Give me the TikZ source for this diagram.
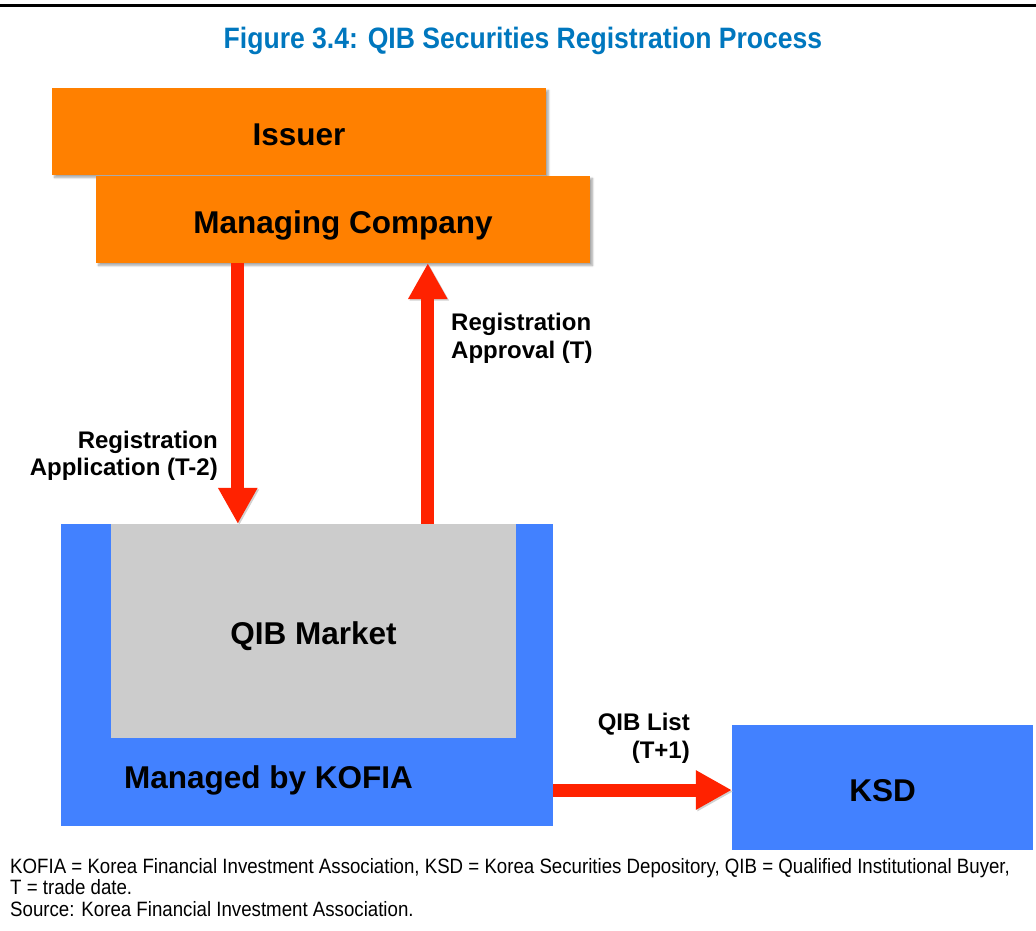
\documentclass[tikz,border=0pt]{standalone}
\usepackage{fontspec}
\setmainfont{Liberation Sans}
\newfontfamily\titlefont{Liberation Sans}[FakeStretch=0.9]
\newfontfamily\notefont{Liberation Sans}[FakeStretch=0.9]
\usetikzlibrary{arrows.meta,shadows.blur}

\definecolor{titleblue}{RGB}{0,119,190}
\definecolor{partyorange}{RGB}{255,128,0}
\definecolor{kofiablue}{RGB}{66,129,255}
\definecolor{marketgray}{RGB}{204,204,204}
\definecolor{flowred}{RGB}{255,34,0}

\begin{document}
\begin{tikzpicture}[x=1pt,y=-1pt]
        \tikzstyle{box} = [rectangle, inner sep=0pt, text height=27.6pt, text depth=0pt, font=\bfseries\fontsize{31.5}{36}\selectfont]
        \tikzstyle{party} = [box, fill=partyorange, minimum width=494pt, minimum height=87pt,
            blur shadow={shadow xshift=2.5pt, shadow yshift=-2.5pt, shadow blur steps=6, shadow opacity=35}]
        \tikzstyle{note} = [inner sep=0pt, font=\bfseries\fontsize{24}{27.5}\selectfont]
        \tikzstyle{flow} = [line width=13pt, draw=flowred, -{Triangle[length=36pt, width=37pt]},
            preaction={draw=black!18, transform canvas={shift={(1.5pt,-1.5pt)}}}]

        \useasboundingbox (0,0) rectangle (1036,930);
        \draw[line width=3pt] (0,5.5) -- (1036,5.5);

        \node (title) [inner sep=0pt, text=titleblue, font=\titlefont\bfseries\fontsize{29.5}{32}\selectfont] at (523,41) {Figure 3.4: QIB Securities Registration Process};

        % issuer side
        \node (issuer) [party] at (299,131.5) {Issuer};
        \node (mc) [party] at (343,219.5) {Managing Company};

        % QIB market run by KOFIA
        \node (kofia) [box, fill=kofiablue, minimum width=492pt, minimum height=302pt] at (307,675) {};
        \node (market) [box, fill=marketgray, minimum width=405pt, minimum height=214pt] at (313.5,631) {QIB Market};
        \node (kofialabel) [box, anchor=west] at (124,775) {Managed by KOFIA};
        \node (ksd) [box, fill=kofiablue, minimum width=301pt, minimum height=125pt] at (882.5,787.5) {KSD};

        \draw[flow] ([xshift=142pt]mc.south west) -- ([xshift=142pt]mc.south west |- market.north);
        \draw[flow] ([xshift=332pt]mc.south west |- market.north) -- ([xshift=332pt]mc.south west);
        \draw[flow] ([yshift=-2.5pt]kofia.east |- ksd.west) -- ([yshift=-2.5pt]ksd.west);

        \node (application) [note, align=right, anchor=east] at (218,456) {Registration\\Application (T-2)};
        \node (approval) [note, align=left, anchor=west] at (451,338.5) {Registration\\Approval (T)};
        \node (qiblist) [note, align=right, anchor=east] at (690,738.5) {QIB List\\(T+1)};

        \node (footnote) [inner sep=0pt, anchor=north west, align=left, font=\notefont\fontsize{20.75}{21.6}\selectfont] at (10,858)
            {KOFIA = Korea Financial Investment Association, KSD = Korea Securities Depository, QIB = Qualified Institutional Buyer,\\
             T = trade date.\\
             Source: Korea Financial Investment Association.};
    \end{tikzpicture}
\end{document}
